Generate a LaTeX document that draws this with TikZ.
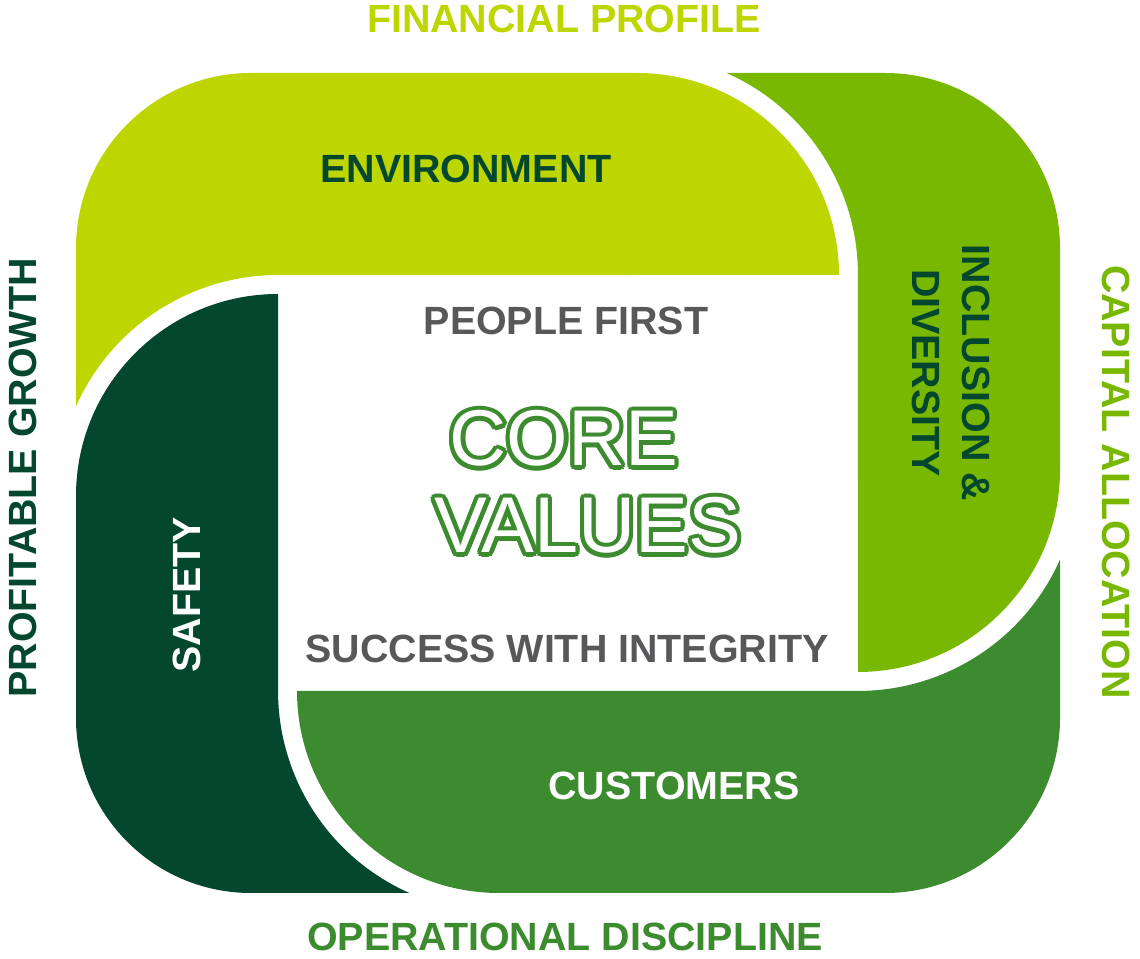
\documentclass[tikz,border=0pt]{standalone}
\usepackage{fontspec}
\setmainfont{Liberation Sans}
\usepackage{xcolor}
\usetikzlibrary{positioning}

\definecolor{envgreen}{HTML}{BDD600}
\definecolor{incgreen}{HTML}{78B800}
\definecolor{cusgreen}{HTML}{3D8B2F}
\definecolor{safgreen}{HTML}{04472F}
\definecolor{txtgray}{HTML}{58585A}

\begin{document}
\begin{tikzpicture}[x=0.01cm, y=0.01cm,
    lbl/.style={font=\bfseries\fontsize{11.2}{14.2}\selectfont, inner sep=0pt},
    big/.style={font=\fontsize{22.5}{26}\selectfont, inner sep=0pt, anchor=base}]
    \useasboundingbox (0,0) rectangle (1140,958);

    % the four bands
    \fill[envgreen] (839,683) arc[start angle=0, end angle=90, radius=202] -- (251,885)
        arc[start angle=90, end angle=180, radius=175] -- (76,551.6)
        arc[start angle=156.07, end angle=90, radius=221] -- cycle;
    \fill[incgreen] (858,286) arc[start angle=-90, end angle=0, radius=202] -- (1060,710)
        arc[start angle=0, end angle=90, radius=175] -- (726.6,885)
        arc[start angle=66.07, end angle=0, radius=221] -- cycle;
    \fill[cusgreen] (297,267) arc[start angle=180, end angle=270, radius=202] -- (885,65)
        arc[start angle=270, end angle=360, radius=175] -- (1060,398.4)
        arc[start angle=-23.93, end angle=-90, radius=221] -- cycle;
    \fill[safgreen] (278,664) arc[start angle=90, end angle=180, radius=202] -- (76,240)
        arc[start angle=180, end angle=270, radius=175] -- (409.4,65)
        arc[start angle=246.07, end angle=180, radius=221] -- cycle;

    \node[lbl, text=safgreen, anchor=base] (env) at (466,775) {ENVIRONMENT};
    \node[lbl, text=safgreen, rotate=-90, align=center] (incl) at (951,585) {INCLUSION \&\\DIVERSITY};
    \node[lbl, text=white, anchor=base] (cust) at (674,158) {CUSTOMERS};
    \node[lbl, text=white, anchor=base, rotate=90] (saf) at (200,363) {SAFETY};

    \node[lbl, text=txtgray, anchor=base] (ppl) at (566,623) {PEOPLE FIRST};
    \node[lbl, text=txtgray, anchor=base] (succ) at (567,295) {SUCCESS WITH INTEGRITY};

    \foreach \a [count=\i] in {0,22.5,...,337.5} {
        \node[big, text=cusgreen, shift={(\a:4.3)}] (corebg\i) at (564,492) {CORE};
        \node[big, text=cusgreen, shift={(\a:4.3)}] (valsbg\i) at (588,405) {VALUES};
    }
    \node[big, text=white] (core) at (564,492) {CORE};
    \node[big, text=white] (vals) at (588,405) {VALUES};

    \node[lbl, text=envgreen, anchor=base] (fin) at (564,925) {FINANCIAL PROFILE};
    \node[lbl, text=incgreen, anchor=base, rotate=-90] (cap) at (1102,476) {CAPITAL ALLOCATION};
    \node[lbl, text=cusgreen, anchor=base] (ops) at (565,8) {OPERATIONAL DISCIPLINE};
    \node[lbl, text=safgreen, anchor=base, rotate=90] (grow) at (36,480) {PROFITABLE GROWTH};
\end{tikzpicture}
\end{document}
